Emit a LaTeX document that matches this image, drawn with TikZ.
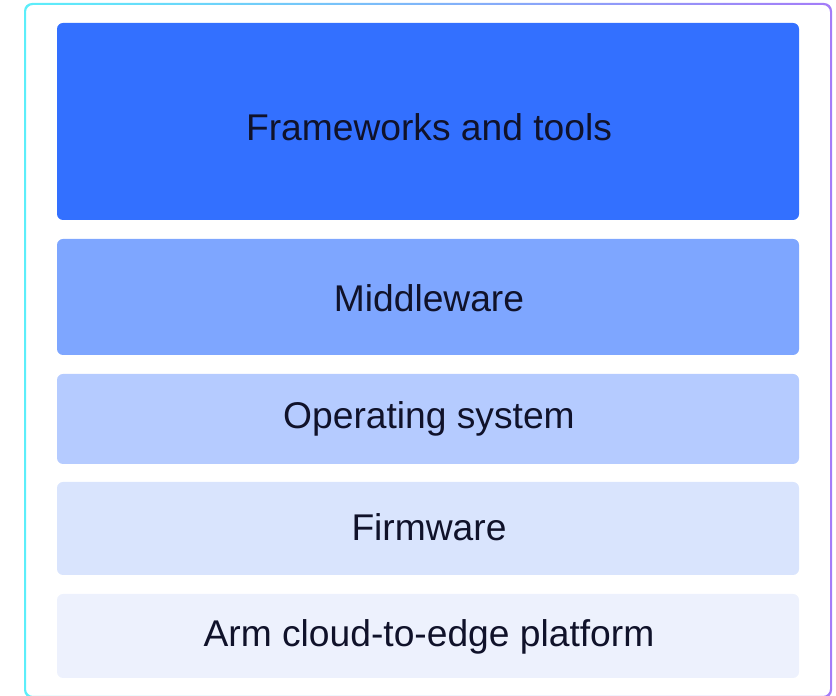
\documentclass[tikz,border=0pt]{standalone}
\usepackage{fontspec}
\setmainfont{Liberation Sans}
\definecolor{c1}{HTML}{3370FF}
\definecolor{c2}{HTML}{7EA6FF}
\definecolor{c3}{HTML}{B5CBFF}
\definecolor{c4}{HTML}{D9E4FD}
\definecolor{c5}{HTML}{EDF1FD}
\definecolor{bleft}{HTML}{5CEEFA}
\definecolor{bright}{HTML}{A47CF8}
\definecolor{txt}{HTML}{10122A}
\tikzset{
  layer/.style={fill=#1, draw=none, rounded corners=6pt},
  label/.style={text=txt, font=\fontsize{37.2}{40}\selectfont, inner sep=0pt},
}
\begin{document}
\begin{tikzpicture}[x=1pt,y=1pt]
\useasboundingbox (0,0) rectangle (836,696);
% outer gradient frame
\shade[left color=bleft, right color=bright, even odd rule]
  [rounded corners=8pt] (24,-2) rectangle (832,693)
  [rounded corners=7pt] (26,0) rectangle (830,691);
% layers
\path[layer=c1] (57,696-220) rectangle (799,696-23);
\node[label] (l1) at (429,696-127.5) {Frameworks and tools};
\path[layer=c2] (57,696-355) rectangle (799,696-239);
\node[label] (l2) at (429,696-298.5) {Middleware};
\path[layer=c3] (57,696-464) rectangle (799,696-374);
\node[label] (l3) at (429,696-418.5) {Operating system};
\path[layer=c4] (57,696-575) rectangle (799,696-482);
\node[label] (l4) at (429,696-527.5) {Firmware};
\path[layer=c5] (57,696-678) rectangle (799,696-594);
\node[label] (l5) at (429,696-636.5) {Arm cloud-to-edge platform};
\end{tikzpicture}
\end{document}
